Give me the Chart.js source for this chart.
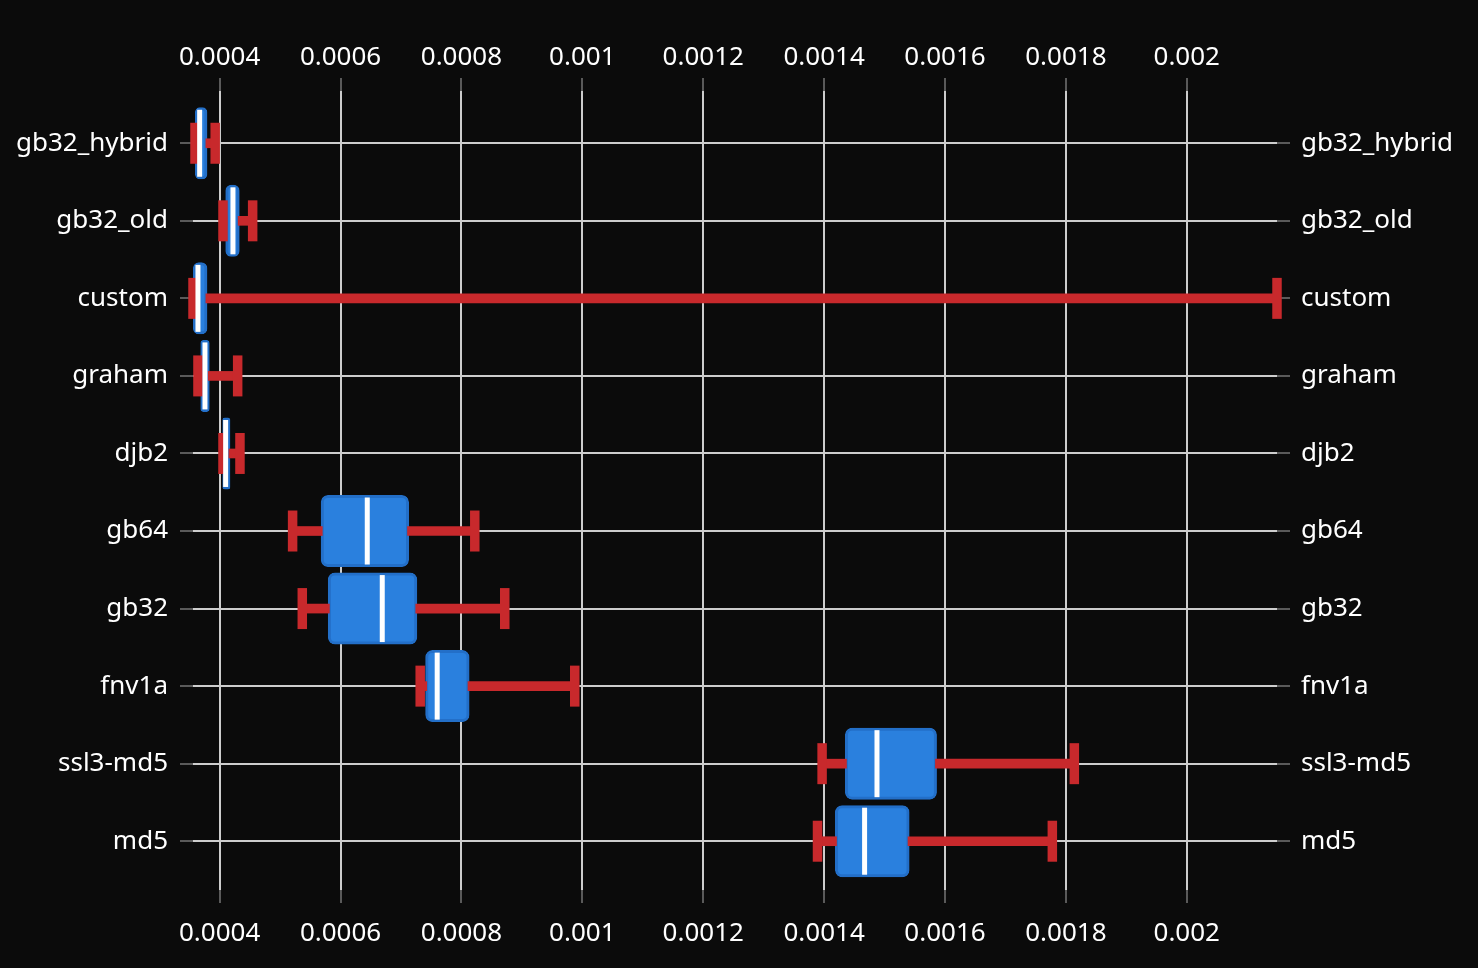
<!DOCTYPE html>
<html>
<head>
<meta charset="utf-8">
<script src="https://cdn.jsdelivr.net/npm/chart.js@4"></script>
<style>
html, body { margin: 0; padding: 0; background: #0b0b0b; }
#wrap { width: 1478px; height: 968px; position: relative; }
</style>
</head>
<body>
<div id="wrap"><canvas id="chart"></canvas></div>
<script>
const categories = ['gb32_hybrid', 'gb32_old', 'custom', 'graham', 'djb2', 'gb64', 'gb32', 'fnv1a', 'ssl3-md5', 'md5'];
const minValues    = [0.0003592, 0.0004055, 0.0003559, 0.0003641, 0.0004055, 0.0005207, 0.0005367, 0.0007318, 0.0013967, 0.0013891];
const q1Values     = [0.0003616, 0.0004119, 0.0003583, 0.0003706, 0.0004069, 0.0005698, 0.0005815, 0.0007426, 0.0014370, 0.0014205];
const medianValues = [0.0003669, 0.0004220, 0.0003641, 0.0003757, 0.0004099, 0.0006442, 0.0006690, 0.0007599, 0.0014875, 0.0014670];
const q3Values     = [0.0003772, 0.0004306, 0.0003772, 0.0003810, 0.0004152, 0.0007108, 0.0007244, 0.0008109, 0.0015842, 0.0015389];
const maxValues    = [0.0003926, 0.0004546, 0.0021493, 0.0004298, 0.0004336, 0.0008221, 0.0008717, 0.0009875, 0.0018140, 0.0017776];
const xTickValues  = [0.0004, 0.0006, 0.0008, 0.001, 0.0012, 0.0014, 0.0016, 0.0018, 0.002];
const xTickLabels  = ['0.0004', '0.0006', '0.0008', '0.001', '0.0012', '0.0014', '0.0016', '0.0018', '0.002'];

const BLUE = '#2a80de';
const BLUE_BORDER = '#236fc8';
const RED = '#c8292c';
const GRID = '#cdcdcd';
const TICKMARK = '#5a5a5a';
const FONT = { family: "'Noto Sans', 'Open Sans', sans-serif", size: 26 };

const xMin = Math.min(...minValues);
const xMax = Math.max(...maxValues);

const idx = categories.map((c, i) => i);

const setXTicks = axis => { axis.ticks = xTickValues.map(v => ({ value: v })); };
const setYTicks = axis => { axis.ticks = idx.map(i => ({ value: i })); };

const xAxisBase = (position, drawOnChartArea, padding, size) => ({
  type: 'linear', position, min: xMin, max: xMax, offset: false,
  afterBuildTicks: setXTicks,
  afterFit: s => { s.height = size; },
  ticks: { color: '#ffffff', font: FONT, padding, autoSkip: false, maxRotation: 0,
           callback: (v, i) => xTickLabels[i] },
  grid: { offset: false, color: GRID, lineWidth: 2, drawOnChartArea, drawTicks: true,
          tickColor: TICKMARK, tickWidth: 2, tickLength: 13 },
  border: { display: false }
});
const yAxisBase = (position, drawOnChartArea, padding, size) => ({
  type: 'linear', position, reverse: true, min: -0.674, max: 9.629, offset: false,
  afterBuildTicks: setYTicks,
  afterFit: s => { s.width = size; },
  ticks: { color: '#ffffff', font: FONT, padding, autoSkip: false,
           callback: v => categories[v] },
  grid: { offset: false, color: GRID, lineWidth: 2, drawOnChartArea, drawTicks: true,
          tickColor: TICKMARK, tickWidth: 2, tickLength: 13 },
  border: { display: false }
});

new Chart(document.getElementById('chart'), {
  type: 'bar',
  data: {
    datasets: [
      {
        type: 'scatter', label: 'median', order: 0, clip: false,
        data: idx.map(i => ({ x: medianValues[i], y: i })),
        pointStyle: 'line', rotation: 90, radius: 33.5, borderWidth: 5,
        borderColor: '#ffffff', backgroundColor: '#ffffff'
      },
      {
        type: 'scatter', label: 'caps', order: 1, clip: false,
        data: idx.map(i => ({ x: minValues[i], y: i })).concat(idx.map(i => ({ x: maxValues[i], y: i }))),
        pointStyle: 'line', rotation: 90, radius: 20.5, borderWidth: 9.5,
        borderColor: RED, backgroundColor: RED
      },
      {
        type: 'bar', label: 'lower whisker', order: 2, indexAxis: 'y', grouped: false, clip: false,
        data: idx.map(i => ({ x: [minValues[i], q1Values[i]], y: i })),
        barThickness: 9, backgroundColor: RED, borderWidth: 0
      },
      {
        type: 'bar', label: 'upper whisker', order: 2, indexAxis: 'y', grouped: false, clip: false,
        data: idx.map(i => ({ x: [q3Values[i], maxValues[i]], y: i })),
        barThickness: 9, backgroundColor: RED, borderWidth: 0
      },
      {
        type: 'bar', label: 'box', order: 3, indexAxis: 'y', grouped: false, clip: false,
        data: idx.map(i => ({ x: [q1Values[i], q3Values[i]], y: i })),
        barThickness: 69, inflateAmount: 1.5, backgroundColor: BLUE, borderColor: BLUE_BORDER,
        borderWidth: 3, borderRadius: 7, borderSkipped: false
      }
    ]
  },
  options: {
    responsive: true, maintainAspectRatio: false, animation: false,
    events: [],
    layout: { padding: 0 },
    plugins: { legend: { display: false }, tooltip: { enabled: false } },
    scales: {
      x: xAxisBase('bottom', true, 15, 78),
      x2: xAxisBase('top', false, 5, 91),
      y: yAxisBase('left', true, 12, 193),
      y2: yAxisBase('right', false, 11, 201)
    }
  }
});
</script>
</body>
</html>
